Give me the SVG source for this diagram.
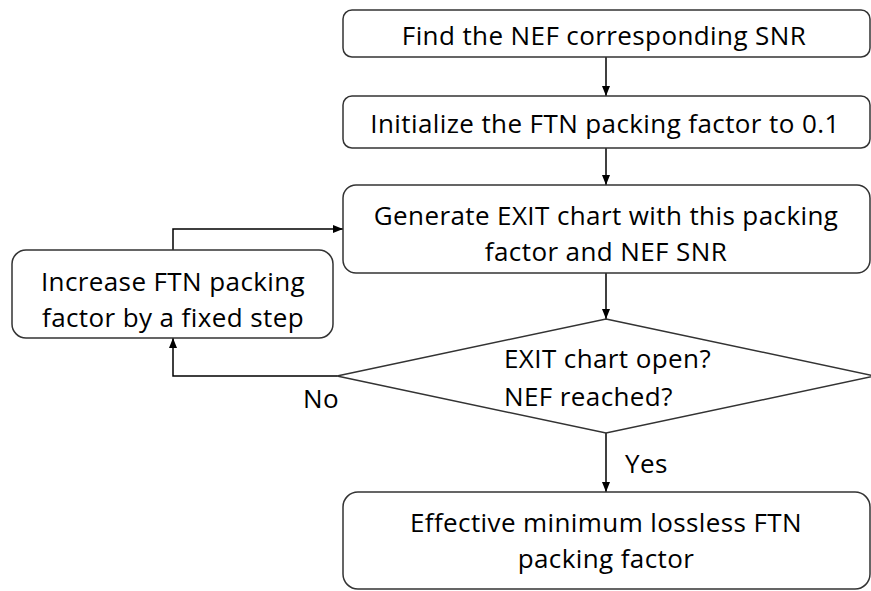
<svg xmlns="http://www.w3.org/2000/svg" width="871" height="591" viewBox="0 0 871 591">
<style>
.box{fill:#fff;stroke:#333;stroke-width:1.5}
.t{font-family:"Open Sans","Liberation Sans",sans-serif;font-size:26px;letter-spacing:0.4px;fill:#000}
.c{text-anchor:middle}
.ln{fill:none;stroke:#000;stroke-width:1.5}
</style>
<defs>
<marker id="ah" viewBox="0 0 10 10" refX="10" refY="5" markerWidth="10" markerHeight="10" markerUnits="userSpaceOnUse" orient="auto">
<path d="M0,1 L10,5 L0,9 Z" fill="#000"/>
</marker>
</defs>
<rect width="871" height="591" fill="#fff"/>
<g id="connectors">
<line class="ln" x1="606" y1="57" x2="606" y2="96" marker-end="url(#ah)"/>
<line class="ln" x1="606" y1="148" x2="606" y2="185" marker-end="url(#ah)"/>
<line class="ln" x1="606" y1="273" x2="606" y2="319" marker-end="url(#ah)"/>
<line class="ln" x1="606" y1="433" x2="606" y2="492" marker-end="url(#ah)"/>
<polyline class="ln" points="337,376 173,376 173,338" marker-end="url(#ah)"/>
<polyline class="ln" points="173,250 173,229 343,229" marker-end="url(#ah)"/>
<text class="t" x="303" y="408">No</text>
<text class="t" x="625" y="473">Yes</text>
</g>
<g id="n1">
<rect class="box" x="343" y="10" width="527" height="47" rx="9"/>
<text class="t c" x="604" y="45">Find the NEF corresponding SNR</text>
</g>
<g id="n2">
<rect class="box" x="343" y="96" width="527" height="52" rx="9"/>
<text class="t c" x="605" y="133">Initialize the FTN packing factor to 0.1</text>
</g>
<g id="n3">
<rect class="box" x="343" y="185" width="527" height="88" rx="13"/>
<text class="t c" x="606" y="225">Generate EXIT chart with this packing</text>
<text class="t c" x="606" y="261">factor and NEF SNR</text>
</g>
<g id="n4">
<rect class="box" x="12" y="250" width="321" height="88" rx="14"/>
<text class="t c" x="173" y="291">Increase FTN packing</text>
<text class="t c" x="173" y="327">factor by a fixed step</text>
</g>
<g id="n5">
<polygon class="box" points="606,319 875,376 606,433 337,376"/>
<text class="t" x="504" y="368">EXIT chart open?</text>
<text class="t" x="504" y="406">NEF reached?</text>
</g>
<g id="n6">
<rect class="box" x="343" y="492" width="527" height="97" rx="15"/>
<text class="t c" x="606" y="532">Effective minimum lossless FTN</text>
<text class="t c" x="606" y="568">packing factor</text>
</g>
</svg>
